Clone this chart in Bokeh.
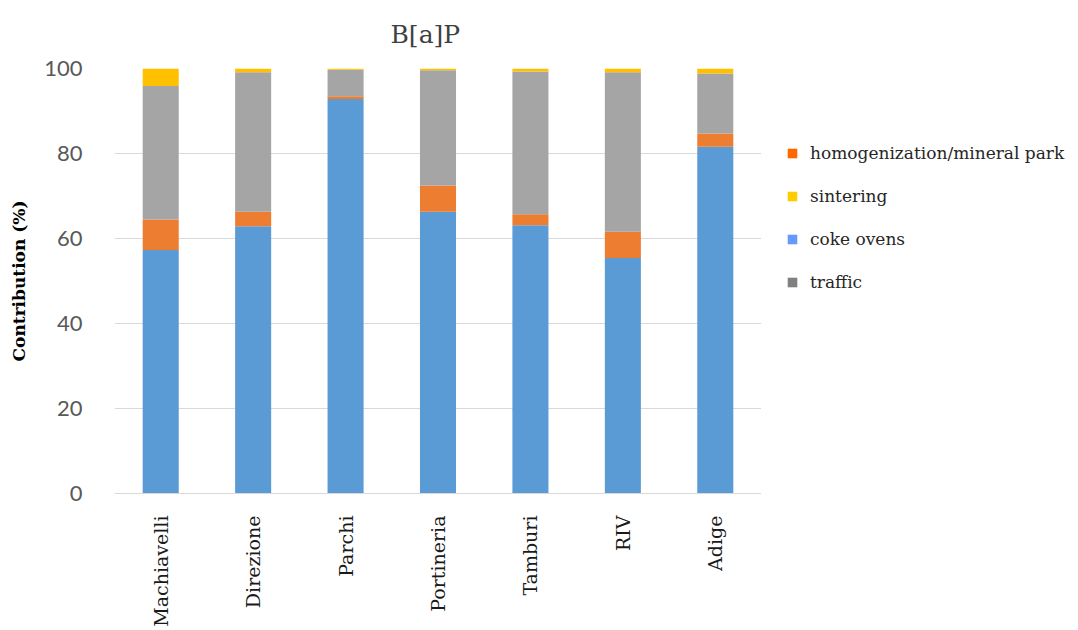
import math
from bokeh.plotting import figure
from bokeh.layouts import row
from bokeh.models import ColumnDataSource, FactorRange, Range1d, FixedTicker, Legend, LegendItem
from bokeh.embed import file_html
from bokeh.resources import INLINE

# Source contributions to B[a]P at each monitoring site (%)
sites = ["Machiavelli", "Direzione", "Parchi", "Portineria", "Tamburi", "RIV", "Adige"]
coke_ovens = [57.3, 62.9, 92.8, 66.3, 63.1, 55.4, 81.6]
homogenization = [7.2, 3.4, 0.7, 6.2, 2.6, 6.2, 3.1]
traffic = [31.4, 32.8, 6.2, 27.1, 33.6, 37.5, 14.1]
sintering = [4.1, 0.9, 0.3, 0.4, 0.7, 0.9, 1.2]
y_ticks = [0, 20, 40, 60, 80, 100]

stack_keys = ["coke_ovens", "homogenization", "traffic", "sintering"]
bar_colors = ["#5B9BD5", "#ED7D31", "#A5A5A5", "#FFC000"]

legend_labels = ["homogenization/mineral park", "sintering", "coke ovens", "traffic"]
legend_keys = ["homogenization", "sintering", "coke_ovens", "traffic"]
legend_colors = ["#FF6600", "#FFCC00", "#6699FF", "#808080"]

source = ColumnDataSource(dict(
    site=sites,
    coke_ovens=coke_ovens,
    homogenization=homogenization,
    traffic=traffic,
    sintering=sintering,
))

# Main stacked-bar chart
p = figure(
    x_range=FactorRange(*sites),
    y_range=Range1d(0, 100),
    width=761, height=630,
    min_border_left=114, min_border_right=0,
    min_border_top=68, min_border_bottom=137,
    output_backend="svg", toolbar_location=None,
)

p.vbar_stack(stack_keys, x="site", width=0.39, color=bar_colors,
             line_color=None, source=source)

# Title
p.title.text = "B[a]P"
p.title.align = "left"
p.title.offset = 276
p.title.vertical_align = "top"
p.title.text_font = "DejaVu Serif"
p.title.text_font_size = "25px"
p.title.text_font_style = "normal"
p.title.text_color = "#404040"
p.title.standoff = 35

# Y axis
p.yaxis.ticker = FixedTicker(ticks=y_ticks)
p.yaxis.axis_line_color = None
p.yaxis.major_tick_line_color = None
p.yaxis.minor_tick_line_color = None
p.yaxis.major_label_standoff = 26
p.yaxis.major_label_text_font = "Lato"
p.yaxis.major_label_text_font_size = "22px"
p.yaxis.major_label_text_color = "#595959"
p.yaxis.axis_label = "Contribution (%)"
p.yaxis.axis_label_text_font = "DejaVu Serif"
p.yaxis.axis_label_text_font_style = "bold"
p.yaxis.axis_label_text_font_size = "17px"
p.yaxis.axis_label_text_color = "#000000"
p.yaxis.axis_label_standoff = 12

# X axis
p.xaxis.axis_line_color = "#D9D9D9"
p.xaxis.major_tick_line_color = None
p.xaxis.minor_tick_line_color = None
p.xaxis.major_label_orientation = math.pi / 2
p.xaxis.major_label_standoff = 16
p.xaxis.major_label_text_font = "DejaVu Serif"
p.xaxis.major_label_text_font_size = "19px"
p.xaxis.major_label_text_color = "#1a1a1a"

p.xgrid.visible = False
p.ygrid.grid_line_color = "#D9D9D9"
p.outline_line_color = None

# Legend panel to the right of the chart
lp = figure(
    x_range=FactorRange(*sites),
    y_range=Range1d(0, 100),
    width=317, height=630,
    min_border=0,
    output_backend="svg", toolbar_location=None,
)
lp.axis.visible = False
lp.grid.visible = False
lp.outline_line_color = None

items = []
for lab, key, col in zip(legend_labels, legend_keys, legend_colors):
    r = lp.vbar(x="site", top=key, width=0.39, source=source,
                fill_color=col, line_color=None, visible=False)
    items.append(LegendItem(label=lab, renderers=[r]))

legend = Legend(
    items=items, location=(25, 201), orientation="vertical",
    glyph_width=12, glyph_height=12, label_standoff=12,
    label_height=20, spacing=23, padding=0, margin=0,
    border_line_color=None, background_fill_alpha=0,
    label_text_font="DejaVu Serif", label_text_font_size="17px",
    label_text_color="#262626",
)
lp.add_layout(legend, "center")

layout = row(p, lp, spacing=0)
open("out.html", "w").write(file_html(layout, INLINE))
